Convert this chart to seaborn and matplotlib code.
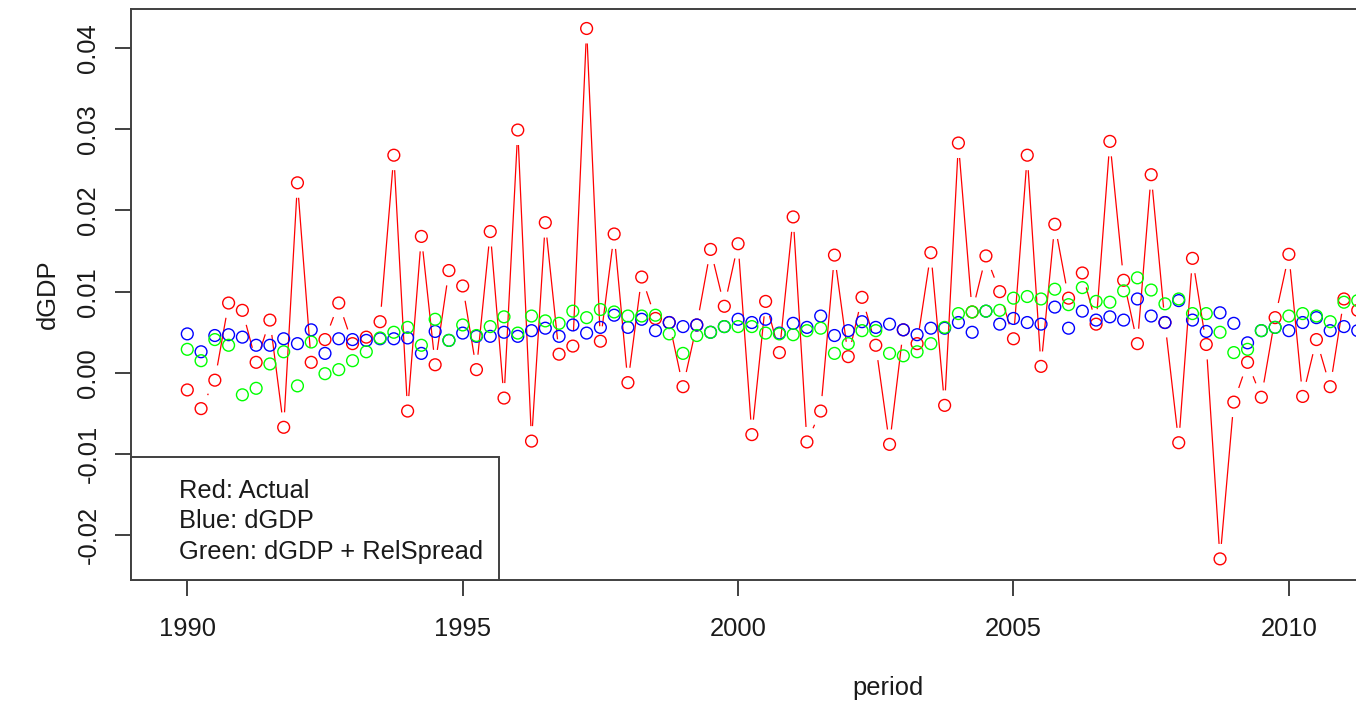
import numpy as np
import pandas as pd
import matplotlib
matplotlib.use("Agg")
import matplotlib.pyplot as plt
from matplotlib.collections import LineCollection
from matplotlib.patches import Rectangle
import seaborn as sns

# ---------------- data (quarterly, starting 1990 Q1) ----------------
start_year = 1990
actual = [
    -0.0021, -0.0044, -0.0009, 0.0086, 0.0077, 0.0013, 0.0065, -0.0067, 0.0234, 0.0013,
    0.0041, 0.0086, 0.0036, 0.0044, 0.0063, 0.0268, -0.0047, 0.0168, 0.0010, 0.0126,
    0.0107, 0.0004, 0.0174, -0.0031, 0.0299, -0.0084, 0.0185, 0.0023, 0.0033, 0.0424,
    0.0039, 0.0171, -0.0012, 0.0118, 0.0067, 0.0062, -0.0017, 0.0059, 0.0152, 0.0082,
    0.0159, -0.0076, 0.0088, 0.0025, 0.0192, -0.0085, -0.0047, 0.0145, 0.0020, 0.0093,
    0.0034, -0.0088, 0.0053, 0.0036, 0.0148, -0.0040, 0.0283, 0.0075, 0.0144, 0.0100,
    0.0042, 0.0268, 0.0008, 0.0183, 0.0092, 0.0123, 0.0060, 0.0285, 0.0114, 0.0036,
    0.0244, 0.0062, -0.0086, 0.0141, 0.0035, -0.0229, -0.0036, 0.0013, -0.0030, 0.0068,
    0.0146, -0.0029, 0.0041, -0.0017, 0.0091, 0.0077,
]
dgdp = [
    0.0048, 0.0026, 0.0046, 0.0047, 0.0044, 0.0034, 0.0034, 0.0042, 0.0036, 0.0053,
    0.0024, 0.0042, 0.0041, 0.0040, 0.0042, 0.0042, 0.0043, 0.0024, 0.0051, 0.0040,
    0.0049, 0.0045, 0.0045, 0.0050, 0.0045, 0.0052, 0.0055, 0.0045, 0.0059, 0.0049,
    0.0056, 0.0071, 0.0056, 0.0066, 0.0052, 0.0062, 0.0057, 0.0059, 0.0050, 0.0057,
    0.0066, 0.0062, 0.0066, 0.0049, 0.0061, 0.0056, 0.0070, 0.0046, 0.0052, 0.0063,
    0.0056, 0.0060, 0.0053, 0.0047, 0.0055, 0.0055, 0.0062, 0.0050, 0.0076, 0.0060,
    0.0067, 0.0062, 0.0060, 0.0081, 0.0055, 0.0076, 0.0065, 0.0069, 0.0065, 0.0091,
    0.0070, 0.0062, 0.0089, 0.0065, 0.0051, 0.0074, 0.0061, 0.0037, 0.0052, 0.0056,
    0.0052, 0.0062, 0.0068, 0.0052, 0.0057, 0.0052,
]
dgdp_relspread = [
    0.0029, 0.0015, 0.0041, 0.0034, -0.0027, -0.0019, 0.0011, 0.0026, -0.0016, 0.0038,
    -0.0001, 0.0004, 0.0015, 0.0026, 0.0043, 0.0050, 0.0056, 0.0034, 0.0066, 0.0040,
    0.0059, 0.0046, 0.0057, 0.0069, 0.0049, 0.0070, 0.0064, 0.0061, 0.0076, 0.0068,
    0.0078, 0.0075, 0.0070, 0.0070, 0.0071, 0.0048, 0.0024, 0.0046, 0.0050, 0.0057,
    0.0057, 0.0057, 0.0049, 0.0048, 0.0047, 0.0052, 0.0055, 0.0024, 0.0036, 0.0052,
    0.0052, 0.0024, 0.0021, 0.0026, 0.0036, 0.0056, 0.0073, 0.0075, 0.0076, 0.0077,
    0.0092, 0.0094, 0.0091, 0.0103, 0.0084, 0.0105, 0.0088, 0.0087, 0.0101, 0.0117,
    0.0102, 0.0085, 0.0091, 0.0073, 0.0073, 0.0050, 0.0025, 0.0029, 0.0052, 0.0056,
    0.0070, 0.0073, 0.0070, 0.0063, 0.0087, 0.0089,
]
x_ticks = [1990, 1995, 2000, 2005, 2010]
y_ticks = [-0.02, -0.01, 0.00, 0.01, 0.02, 0.03, 0.04]
legend_lines = ["Red: Actual", "Blue: dGDP", "Green: dGDP + RelSpread"]

period = start_year + np.arange(len(actual)) / 4.0
df = pd.DataFrame({"period": period, "actual": actual,
                   "dgdp": dgdp, "green": dgdp_relspread})

# ---------------- style ----------------
sns.set_theme(style="white")
plt.rcParams["font.family"] = ["Liberation Sans", "DejaVu Sans"]
FS = 18.4
EDGE = "#404040"

W, H = 1356, 704
fig = plt.figure(figsize=(W / 100, H / 100), dpi=100)
fig.patch.set_facecolor("white")

ax_left, ax_right, ax_top, ax_bottom = 131, 1648, 9, 580
ax = fig.add_axes([ax_left / W, (H - ax_bottom) / H,
                   (ax_right - ax_left) / W, (ax_bottom - ax_top) / H])
ax.set_facecolor("white")
ax.set_xlim(1988.978, 2016.52)
ax.set_ylim(-0.0255, 0.0448)

# ---------------- red line with gaps (R type="b") ----------------
gap = 15.0  # pixels
pts = ax.transData.transform(np.column_stack([df["period"], df["actual"]]))
inv = ax.transData.inverted()
segs = []
for p0, p1 in zip(pts[:-1], pts[1:]):
    d = p1 - p0
    L = np.hypot(*d)
    if L > 2 * gap:
        u = d / L
        a = inv.transform(p0 + u * gap)
        b = inv.transform(p1 - u * gap)
        segs.append([a, b])
ax.add_collection(LineCollection(segs, colors="#FF0000", linewidths=0.9, zorder=2))

# ---------------- points ----------------
for col, c in [("actual", "#FF0000"), ("dgdp", "#0000FF"), ("green", "#00FF00")]:
    sns.scatterplot(data=df, x="period", y=col, ax=ax, marker="o", s=72,
                    color=c, facecolors="none", edgecolor=c, linewidth=1.0,
                    zorder=3, legend=False)

# ---------------- axes styling ----------------
for s in ax.spines.values():
    s.set_visible(True)
    s.set_color(EDGE)
    s.set_linewidth(1.4)

ax.set_xticks(x_ticks)
ax.set_xticklabels([str(v) for v in x_ticks])
ax.set_yticks(y_ticks)
ax.set_yticklabels([f"{v:.2f}" for v in y_ticks])
ax.tick_params(axis="both", which="major", direction="out", length=11.5,
               width=1.4, color=EDGE, labelsize=FS, labelcolor="#1a1a1a",
               bottom=True, left=True, top=False, right=False)
ax.tick_params(axis="x", pad=15)
ax.tick_params(axis="y", pad=10.5, labelrotation=90)
for lab in ax.get_yticklabels():
    lab.set_verticalalignment("center")

ax.set_xlabel("period", fontsize=FS, color="#1a1a1a")
ax.set_ylabel("dGDP", fontsize=FS, color="#1a1a1a")
ax.xaxis.label.set_verticalalignment("center")
ax.yaxis.label.set_verticalalignment("center")
ax.xaxis.set_label_coords((888 - ax_left) / (ax_right - ax_left),
                          -(688 - ax_bottom) / (ax_bottom - ax_top))
ax.yaxis.set_label_coords(-(ax_left - 48) / (ax_right - ax_left), 0.5)
ax.grid(False)

# ---------------- legend box (R legend, bottomleft, no symbols) ----------------
lx0, lx1, ly0, ly1 = 131, 499, 457, 580
fig.add_artist(Rectangle((lx0 / W, (H - ly1) / H), (lx1 - lx0) / W, (ly1 - ly0) / H,
                         transform=fig.transFigure, facecolor="white",
                         edgecolor=EDGE, linewidth=1.4, zorder=5))
for k, txt in enumerate(legend_lines):
    fig.text(179 / W, (H - (497.5 + 30.6 * k)) / H, txt, fontsize=FS,
             color="#1a1a1a", ha="left", va="baseline", zorder=6)

fig.savefig("out.png", dpi=100)
